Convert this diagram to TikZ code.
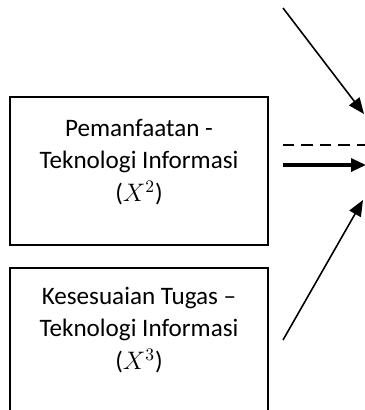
\documentclass[tikz,border=0pt]{standalone}
\usepackage{fontspec}
\setmainfont{Carlito}
\usetikzlibrary{arrows.meta,positioning}
\tikzset{
  varbox/.style={draw, line width=1.1pt, minimum width=5.16cm, inner sep=0pt},
  varlabel/.style={font=\fontsize{14.3}{18.5}\selectfont, align=center},
  arr/.style={line width=0.9pt, -{Triangle[length=0.32cm, width=0.26cm]}},
  thickarr/.style={line width=1.8pt, -{Triangle[length=0.3cm, width=0.26cm]}},
  dashline/.style={line width=0.9pt, dash pattern=on 6.5pt off 4pt}
}
\begin{document}
\begin{tikzpicture}[x=0.02cm, y=-0.02cm]
    % Frame
    \useasboundingbox (0,0) rectangle (365,410);
    \clip (0,0) rectangle (365,410);
    % Boxes
    \node[varbox, minimum height=2.96cm] (pti) at (139,171) {};
    \node[varbox, minimum height=3.3cm, anchor=north] (ktti) at (139,267) {};
    % Labels
    \node[varlabel] (ptiText) at (139,162) {Pemanfaatan -\\Teknologi Informasi\\($X^2$)};
    \node[varlabel] (kttiText) at (139,330) {Kesesuaian Tugas --\\Teknologi Informasi\\($X^3$)};
    % Arrow ends
    \coordinate (topStart) at (283,8);
    \coordinate (topEnd) at (364,114);
    \coordinate (dashStart) at (283,145);
    \coordinate (dashEnd) at (366,145);
    \coordinate (midStart) at (283,165);
    \coordinate (midEnd) at (366,165);
    \coordinate (lowStart) at (283,340);
    \coordinate (lowEnd) at (363,200);
    % Connectors
    \draw[arr] (topStart) -- (topEnd);
    \draw[dashline] (dashStart) -- (dashEnd);
    \draw[thickarr] (midStart) -- (midEnd);
    \draw[arr] (lowStart) -- (lowEnd);
\end{tikzpicture}
\end{document}
